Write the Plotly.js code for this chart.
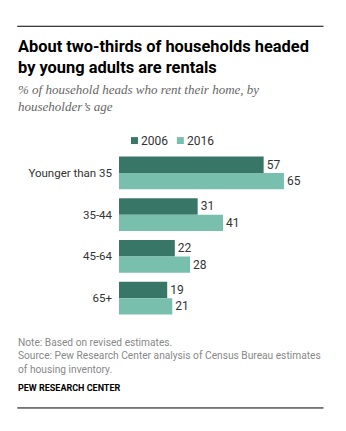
<!DOCTYPE html>
<html><head><meta charset="utf-8">
<script src="https://cdn.plot.ly/plotly-3.0.1.min.js"></script>
<style>html,body{margin:0;padding:0;background:#fff}#chart{width:346px;height:431px}</style>
</head><body><div id="chart"></div>
<script>
const categories = ["Younger than 35", "35-44", "45-64", "65+"];
const values2006 = [57, 31, 22, 19];
const values2016 = [65, 41, 28, 21];
const seriesNames = ["2006", "2016"];
const colors = ["#387767", "#79bfae"];

const font = "Roboto, 'Liberation Sans', Arial, sans-serif";
const traces = [
  {type:"bar", orientation:"h", name:seriesNames[0], y:categories, x:values2006,
   marker:{color:colors[0]}, text:values2006.map(String), textposition:"outside",
   textfont:{family:font, size:12, color:"#333"}, cliponaxis:false, hoverinfo:"skip"},
  {type:"bar", orientation:"h", name:seriesNames[1], y:categories, x:values2016,
   marker:{color:colors[1]}, text:values2016.map(String), textposition:"outside",
   textfont:{family:font, size:12, color:"#333"}, cliponaxis:false, hoverinfo:"skip"}
];
const PL = 119, PW = 203.5, PB = 319.5, PH = 168;
const px = v => (v-PL)/PW, py = v => (PB-v)/PH;
const layout = {
  width:346, height:431, paper_bgcolor:"#fff", plot_bgcolor:"#fff",
  margin:{l:119, r:23.5, t:151.5, b:111.5, pad:0},
  barmode:"group", bargap:0.21, bargroupgap:0,
  showlegend:false,
  xaxis:{range:[0,80], visible:false, fixedrange:true},
  yaxis:{autorange:"reversed", showline:false, showgrid:false, zeroline:false, ticks:"",
    tickfont:{family:font, size:11.5, color:"#333"}, ticklabelstandoff:6},
  font:{family:font},
  shapes:[
    {type:"line", xref:"paper", yref:"paper", x0:px(17), x1:px(324), y0:py(25), y1:py(25), line:{color:"#000", width:1}},
    {type:"line", xref:"paper", yref:"paper", x0:px(17), x1:px(324), y0:py(409), y1:py(409), line:{color:"#000", width:1}},
    {type:"rect", xref:"paper", yref:"paper", x0:px(131), x1:px(138), y0:py(136.5), y1:py(143.5), fillcolor:colors[0], line:{width:0}},
    {type:"rect", xref:"paper", yref:"paper", x0:px(177), x1:px(184), y0:py(136.5), y1:py(143.5), fillcolor:colors[1], line:{width:0}}
  ],
  annotations:[]
};
function ann(text, x, y, opts){
  return Object.assign({text:text, xref:"paper", yref:"paper",
    x:px(x), y:py(y), xanchor:"left", yanchor:"middle",
    showarrow:false, align:"left"}, opts);
}
layout.annotations.push(ann(seriesNames[0], 139, 140, {font:{family:font, size:12, color:"#333"}}));
layout.annotations.push(ann(seriesNames[1], 185, 140, {font:{family:font, size:12, color:"#333"}}));
layout.annotations.push(ann("<b>About two-thirds of households headed<br>by young adults are rentals</b>", 16, 56,
  {font:{family:font, size:16.4, color:"#000"}}));
layout.annotations.push(ann("<i>% of household heads who rent their home, by<br>householder\u2019s age</i>", 16, 97,
  {font:{family:"'Liberation Serif', Georgia, serif", size:13, color:"#666"}}));
layout.annotations.push(ann("Note: Based on revised estimates.<br>Source: Pew Research Center analysis of Census Bureau estimates<br>of housing inventory.", 16, 357,
  {font:{family:font, size:10.2, color:"#888"}}));
layout.annotations.push(ann("<b>PEW RESEARCH CENTER</b>", 16, 389,
  {font:{family:font, size:9, color:"#000"}}));

Plotly.newPlot("chart", traces, layout, {displayModeBar:false, staticPlot:true});
</script></body></html>
